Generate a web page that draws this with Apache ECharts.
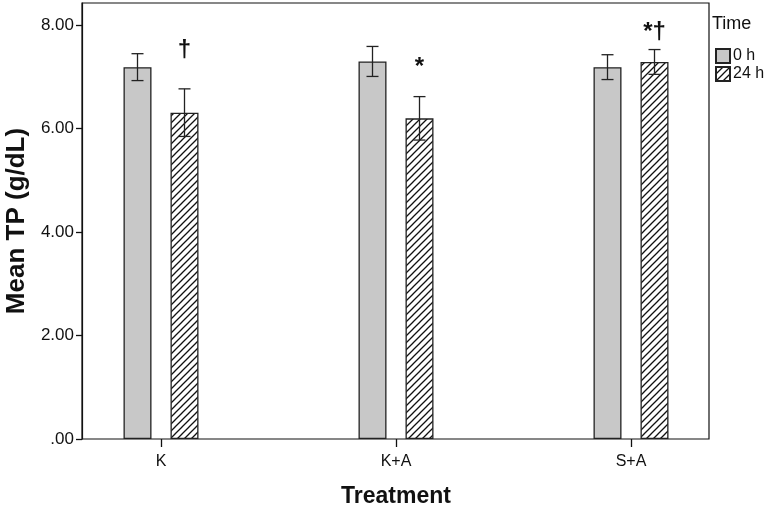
<!DOCTYPE html>
<html>
<head>
<meta charset="utf-8">
<script src="https://cdn.jsdelivr.net/npm/echarts@6/dist/echarts.min.js"></script>
<style>html,body{margin:0;padding:0;background:#fff}#c{width:776px;height:508px}</style>
</head>
<body>
<div id="c"></div>
<script>
var categories = ['K', 'K+A', 'S+A'];
var seriesNames = ['0 h', '24 h'];
var mean0h = [7.19, 7.30, 7.19];
var err0h = [0.26, 0.29, 0.24];
var mean24h = [6.31, 6.20, 7.29];
var err24h = [0.46, 0.42, 0.24];
var annotText = ['\u2020', '*', '*\u2020'];
var annotY = [7.52, 7.19, 7.86];
var yTicks = [0, 2, 4, 6, 8];

var FONT = 'Liberation Sans, Arial, sans-serif';
var BAR_W = 28, BAR_GAP_PX = 19;
var OFF = (BAR_W + BAR_GAP_PX) / 2;
var YMAX = 8.43;

function makeHatch() {
  var s = 7;
  var cv = document.createElement('canvas');
  cv.width = s; cv.height = s;
  var ctx = cv.getContext('2d');
  ctx.fillStyle = '#ffffff';
  ctx.fillRect(0, 0, s, s);
  ctx.strokeStyle = '#111';
  ctx.lineWidth = 1.3;
  ctx.beginPath();
  ctx.moveTo(-1, s + 1); ctx.lineTo(s + 1, -1);
  ctx.moveTo(-1, 1); ctx.lineTo(1, -1);
  ctx.moveTo(s - 1, s + 1); ctx.lineTo(s + 1, s - 1);
  ctx.stroke();
  return cv;
}
var hatch = { image: makeHatch(), repeat: 'repeat' };

function errData(means, errs) {
  return means.map(function (m, i) { return [i, m, errs[i]]; });
}
function errRender(offset) {
  return function (params, api) {
    var i = api.value(0), m = api.value(1), e = api.value(2);
    var top = api.coord([i, m + e]);
    var bot = api.coord([i, m - e]);
    var x = top[0] + offset;
    var cap = 6;
    var st = { stroke: '#222', lineWidth: 1.3 };
    return {
      type: 'group',
      children: [
        { type: 'line', shape: { x1: x, y1: top[1], x2: x, y2: bot[1] }, style: st },
        { type: 'line', shape: { x1: x - cap, y1: top[1], x2: x + cap, y2: top[1] }, style: st },
        { type: 'line', shape: { x1: x - cap, y1: bot[1], x2: x + cap, y2: bot[1] }, style: st }
      ]
    };
  };
}

var chart = echarts.init(document.getElementById('c'), null, { renderer: 'canvas' });
chart.setOption({
  animation: false,
  backgroundColor: '#ffffff',
  title: {
    text: 'Time', left: 707, top: 10,
    textStyle: { fontFamily: FONT, fontSize: 18, fontWeight: 'normal', color: '#111' }
  },
  legend: {
    data: seriesNames, orient: 'vertical', left: 710, top: 43,
    itemWidth: 14, itemHeight: 14, itemGap: 2, icon: 'rect',
    textStyle: { fontFamily: FONT, fontSize: 16, color: '#111', padding: [0, 0, 0, -2] }
  },
  grid: [
    { left: 82, right: 67, top: 3, bottom: 69, show: true, borderColor: '#111', borderWidth: 1.2,
      backgroundColor: 'transparent', outerBoundsMode: 'none', containLabel: false },
    { left: 43.5, width: 705, top: 3, bottom: 69, show: false, outerBoundsMode: 'none', containLabel: false }
  ],
  xAxis: [
    { gridIndex: 0, type: 'category', data: categories, show: false },
    {
      gridIndex: 1, type: 'category', data: categories,
      axisLine: { show: false },
      axisTick: { show: true, alignWithLabel: true, length: 8, lineStyle: { color: '#111', width: 1.3 } },
      axisLabel: { margin: 15, fontFamily: FONT, fontSize: 16, color: '#111' },
      name: 'Treatment', nameLocation: 'middle', nameGap: 46,
      nameTextStyle: { fontFamily: FONT, fontSize: 23, fontWeight: 'bold', color: '#111' }
    }
  ],
  yAxis: [
    {
      gridIndex: 0, type: 'value', min: 0, max: YMAX, interval: 2,
      splitLine: { show: false },
      axisLine: { show: true, lineStyle: { color: '#111', width: 1.2 } },
      axisTick: { show: true, length: 6, lineStyle: { color: '#111', width: 1.3 },
        customValues: yTicks },
      axisLabel: { margin: 8, fontFamily: FONT, fontSize: 17, color: '#111',
        customValues: yTicks,
        formatter: function (v) { var s = v.toFixed(2); return s.charAt(0) === '0' ? s.slice(1) : s; } },
      name: 'Mean TP (g/dL)', nameLocation: 'middle', nameGap: 44,
      nameTextStyle: { fontFamily: FONT, fontSize: 26, fontWeight: 'bold', color: '#111' }
    },
    { gridIndex: 1, type: 'value', min: 0, max: YMAX, show: false, splitLine: { show: false } }
  ],
  series: [
    {
      name: seriesNames[0], type: 'bar', xAxisIndex: 1, yAxisIndex: 1,
      data: mean0h, barWidth: BAR_W, barGap: (BAR_GAP_PX / BAR_W * 100) + '%',
      itemStyle: { color: '#c8c8c8', borderColor: '#222', borderWidth: 1.3 }
    },
    {
      name: seriesNames[1], type: 'bar', xAxisIndex: 1, yAxisIndex: 1,
      data: mean24h, barWidth: BAR_W,
      itemStyle: { color: hatch, borderColor: '#222', borderWidth: 1.3 }
    },
    {
      type: 'custom', xAxisIndex: 1, yAxisIndex: 1, z: 5,
      data: errData(mean0h, err0h), renderItem: errRender(-OFF)
    },
    {
      type: 'custom', xAxisIndex: 1, yAxisIndex: 1, z: 5,
      data: errData(mean24h, err24h), renderItem: errRender(OFF)
    },
    {
      type: 'custom', xAxisIndex: 1, yAxisIndex: 1, z: 5,
      data: annotY.map(function (y, i) { return [i, y, annotText[i]]; }),
      renderItem: function (params, api) {
        var i = api.value(0);
        var p = api.coord([i, api.value(1)]);
        return {
          type: 'text',
          style: {
            text: annotText[i], x: p[0] + OFF, y: p[1],
            align: 'center', verticalAlign: 'middle',
            font: 'bold 24px ' + FONT, fill: '#111'
          }
        };
      }
    }
  ]
});
</script>
</body>
</html>
